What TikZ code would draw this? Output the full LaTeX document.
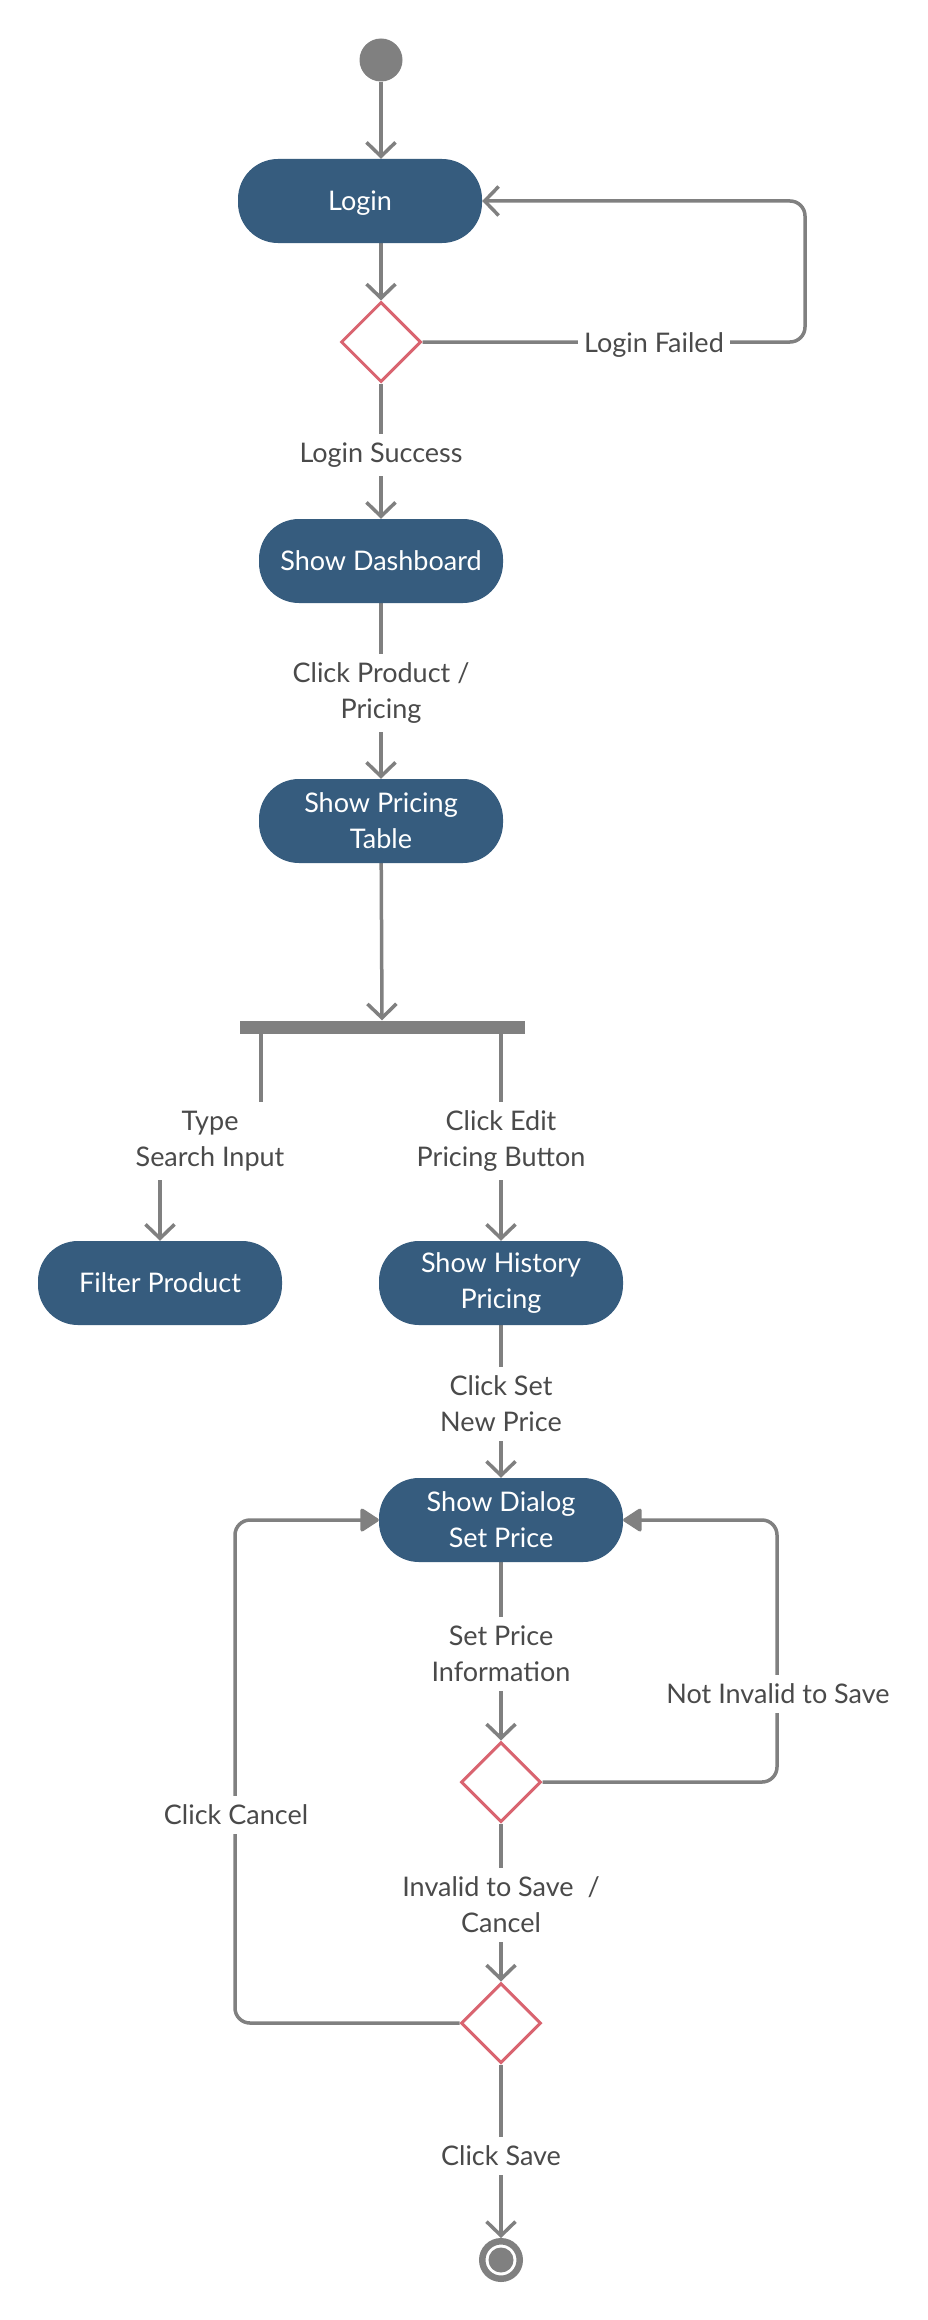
\documentclass[tikz,border=0pt]{standalone}
\usepackage{fontspec}
\setmainfont{Lato}
\usetikzlibrary{shapes.geometric,arrows.meta,backgrounds}
\definecolor{nodeblue}{HTML}{365C7E}
\definecolor{decred}{HTML}{D96470}
\definecolor{linegrey}{HTML}{808080}
\definecolor{txtgrey}{HTML}{4A4A4A}
\tikzset{
  act/.style={rounded corners=40pt, fill=nodeblue, minimum width=244pt, minimum height=84pt,
    text=white, align=center, inner sep=0pt, font=\fontsize{27pt}{36pt}\selectfont},
  dec/.style={diamond, draw=decred, line width=3pt, fill=white, minimum width=80pt,
    minimum height=80pt, inner sep=0pt},
  lbl/.style={fill=white, text=txtgrey, align=center, inner xsep=6pt, inner ysep=9pt,
    font=\fontsize{27pt}{36pt}\selectfont},
  flow/.style={draw=linegrey, line width=3.5pt,
    -{Straight Barb[length=14pt,width=29pt]}},
  back/.style={draw=linegrey, line width=3.5pt, rounded corners=15pt,
    -{Triangle[length=20pt,width=25pt,round]}},
  backopen/.style={draw=linegrey, line width=3.5pt, rounded corners=15pt,
    -{Straight Barb[length=14pt,width=29pt]}},
}
\begin{document}
\begin{tikzpicture}[x=1pt,y=-1pt]
\useasboundingbox (0,0) rectangle (927,2320);
% nodes
\node[circle, fill=linegrey, minimum size=43pt, inner sep=0pt] (start) at (381,60) {};
\node[act, text depth=0pt] (login) at (360,201) {Login};
\node[dec] (d1) at (381,342) {};
\node[act] (dash) at (381,561) {Show Dashboard};
\node[act] (ptab) at (381,821) {Show Pricing\\Table};
\node[rectangle, fill=linegrey, minimum width=285pt, minimum height=13pt, inner sep=0pt] (bar) at (382,1027) {};
\node[act] (filter) at (160,1283) {Filter Product};
\node[act] (hist) at (501,1283) {Show History\\Pricing};
\node[act] (dialog) at (501,1520) {Show Dialog\\Set Price};
\node[dec] (d2) at (501,1782) {};
\node[dec] (d3) at (501,2023) {};
\node[circle, draw=linegrey, line width=6.5pt, fill=white, minimum size=37.5pt, inner sep=0pt,
  path picture={\fill[linegrey] (path picture bounding box.center) circle (12.5pt);}] (end) at (501,2260) {};
% labels
\node[lbl] (lsucc) at (381,455) {Login Success};
\node[lbl] (lfail) at (654,345) {Login Failed};
\node[lbl] (lprod) at (381,693) {Click Product /\\Pricing};
\node[lbl] (ltype) at (210,1141) {Type\\Search Input};
\node[lbl] (ledit) at (501,1141) {Click Edit\\Pricing Button};
\node[lbl] (lset) at (501,1404) {Click Set\\New Price};
\node[lbl] (linfo) at (501,1654) {Set Price\\Information};
\node[lbl] (linv) at (501,1905) {Invalid to Save~~/\\Cancel};
\node[lbl] (lsave) at (501,2156) {Click Save};
\node[lbl] (lnot) at (778,1694) {Not Invalid to Save};
\node[lbl] (lcancel) at (236,1815) {Click Cancel};
\coordinate (lfr) at (805,0);
\coordinate (lb) at (261,0);
\coordinate (rloop) at (777,0);
\coordinate (lloop) at (235,0);
% connectors
\begin{scope}[on background layer]
\fill[white] (0,0) rectangle (927,2320);
\draw[flow] (start) -- (start |- login.north);
\draw[flow] (d1 |- login.south) -- (d1);
\draw[flow] (d1) -- (dash);
\draw[backopen] (d1.east) -- (d1.east -| lfr) -- (login.east -| lfr) -- (login.east);
\draw[flow] (dash) -- (ptab);
\draw[flow] (ptab) -- (bar.north);
\draw[flow] (bar.south -| lb) -- (lb |- ltype) -- (ltype -| filter) -- (filter);
\draw[flow] (bar.south -| hist) -- (hist);
\draw[flow] (hist) -- (dialog);
\draw[flow] (dialog) -- (d2);
\draw[flow] (d2) -- (d3);
\draw[flow] (d3) -- (end);
\draw[back] (d2.east) -- (d2.east -| rloop) -- (dialog.east -| rloop) -- (dialog.east);
\draw[back] (d3.west) -- (d3.west -| lloop) -- (dialog.west -| lloop) -- (dialog.west);
\end{scope}
\end{tikzpicture}
\end{document}
